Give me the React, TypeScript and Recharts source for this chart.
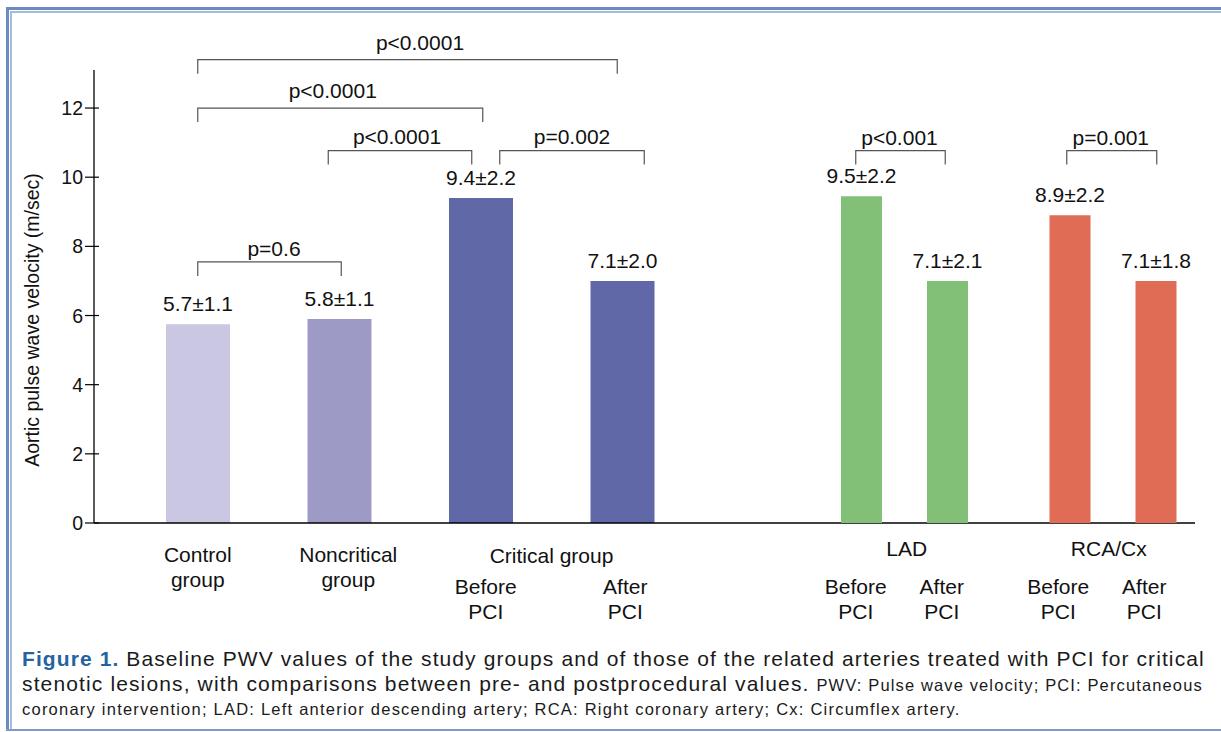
import React from 'react';
import { BarChart, Bar, XAxis, YAxis, Cell, LabelList, ReferenceLine } from 'recharts';

const FONT = '"Liberation Sans", Arial, Helvetica, sans-serif';

// ---------- data ----------
const leftCategories = ['Control group', 'Noncritical group', 'Before PCI', 'After PCI'];
const leftGroups = ['', '', 'Critical group', 'Critical group'];
const leftValues = [5.75, 5.9, 9.4, 7.0];
const leftValueLabels = ['5.7±1.1', '5.8±1.1', '9.4±2.2', '7.1±2.0'];

const rightCategories = ['LAD', 'RCA/Cx'];
const rightBeforeValues = [9.45, 8.9];
const rightAfterValues = [7.0, 7.0];
const rightBeforeLabels = ['9.5±2.2', '8.9±2.2'];
const rightAfterLabels = ['7.1±2.1', '7.1±1.8'];
const phaseNames = ['Before PCI', 'After PCI'];

const yTicks = [0, 2, 4, 6, 8, 10, 12];
const yMax = 13.1;
const yAxisTitle = 'Aortic pulse wave velocity (m/sec)';

const leftBrackets = [
  { from: 'Control group', to: 'After PCI', level: 13.4, text: 'p<0.0001' },
  { from: 'Control group', to: 'Before PCI', level: 12.0, text: 'p<0.0001' },
  { from: 'Noncritical group', to: 'Before PCI', level: 10.77, text: 'p<0.0001' },
  { from: 'Before PCI', to: 'After PCI', level: 10.77, text: 'p=0.002' },
  { from: 'Control group', to: 'Noncritical group', level: 7.55, text: 'p=0.6' },
];
const rightBrackets = [
  { at: 'LAD', level: 10.77, text: 'p<0.001' },
  { at: 'RCA/Cx', level: 10.77, text: 'p=0.001' },
];

// ---------- styles ----------
const leftColors = ['#c9c7e1', '#9d9bc6', '#6168a7', '#6168a7'];
const rightColors = ['#82c077', '#e06c55'];
const TEXT = '#111';
const BRACKET = '#555';
const TICK = 14;
const BAR_L = 64;
const BAR_R = 41;
const GAP_R = 45;
const HALF_PAIR = (BAR_R + GAP_R) / 2;
const FS = 21;

// nudges (px): l/r = end shifts, t = label shift, g = label gap above line
const leftBracketStyle = [
  { l: 0, r: -5, t: 12.5, g: 10 },
  { l: 0, r: 2, t: -7.5, g: 10 },
  { l: -11, r: -9, t: -3, g: 7 },
  { l: 19, r: 22, t: 0, g: 7 },
  { l: 0, r: 2, t: 4.5, g: 6 },
];
const rightBracketStyle = [
  { l: -5.5, r: -2, t: -1, g: 6 },
  { l: -3, r: 1, t: -1, g: 6 },
];
const leftLabelNudge = [0, 9, 5, 3];
const rightMainNudge = [2.5, -4];
const rightSubNudge = [-5.5, -11.5];

const leftData = leftCategories.map((c, i) => ({
  name: c,
  value: leftValues[i],
  label: leftValueLabels[i],
}));
const rightData = rightCategories.map((c, i) => ({
  name: c,
  before: rightBeforeValues[i],
  after: rightAfterValues[i],
  beforeLabel: rightBeforeLabels[i],
  afterLabel: rightAfterLabels[i],
}));

const makeBracket = (text: string, s: any, spread = 0) => (props: any) => {
  const { x1, y1, x2 } = props;
  const a = x1 - spread + s.l;
  const b = x2 + spread + s.r;
  const y = y1;
  return (
    <g>
      <path
        d={`M${a},${y + TICK} V${y} H${b} V${y + TICK}`}
        fill="none"
        stroke={BRACKET}
        strokeWidth={1.2}
      />
      <text
        x={(a + b) / 2 + s.t}
        y={y - s.g}
        textAnchor="middle"
        fontSize={FS}
        fill={TEXT}
        fontFamily={FONT}
      >
        {text}
      </text>
    </g>
  );
};

const groupLabelShape = (text: string) => (props: any) => {
  const { x1, y1, x2 } = props;
  return (
    <text x={(x1 + x2) / 2} y={y1 + 40} textAnchor="middle" fontSize={FS} fill={TEXT} fontFamily={FONT}>
      {text}
    </text>
  );
};

const YTick = (props: any) => {
  const { x, y, payload } = props;
  return (
    <g>
      <line x1={x - 9} x2={x + 5} y1={y} y2={y} stroke="#000" strokeWidth={1.2} />
      <text x={x - 11} y={y} dy="0.36em" textAnchor="end" fontSize={19.5} fill={TEXT} fontFamily={FONT}>
        {payload.value}
      </text>
    </g>
  );
};

const LeftTick = (props: any) => {
  const { x, y, payload } = props;
  const i = leftCategories.indexOf(payload.value);
  const grouped = leftGroups[i] !== '';
  const lines = String(payload.value).split(' ');
  const base = y + (grouped ? 71 : 39);
  const cx = x + (leftLabelNudge[i] || 0);
  return (
    <g>
      {lines.map((ln, k) => (
        <text key={k} x={cx} y={base + k * 25} textAnchor="middle" fontSize={FS} fill={TEXT} fontFamily={FONT}>
          {ln}
        </text>
      ))}
    </g>
  );
};

const RightTick = (props: any) => {
  const { x, y, payload } = props;
  const i = rightCategories.indexOf(payload.value);
  return (
    <g>
      <text x={x + rightMainNudge[i]} y={y + 33} textAnchor="middle" fontSize={FS} fill={TEXT} fontFamily={FONT}>
        {payload.value}
      </text>
      {phaseNames.map((p, j) => {
        const px = x + (j === 0 ? -HALF_PAIR : HALF_PAIR) + rightSubNudge[i];
        return p.split(' ').map((ln, k) => (
          <text
            key={`${j}-${k}`}
            x={px}
            y={y + 71 + k * 25}
            textAnchor="middle"
            fontSize={FS}
            fill={TEXT}
            fontFamily={FONT}
          >
            {ln}
          </text>
        ));
      })}
    </g>
  );
};

const CHART_W = 1221;
const CHART_H = 633;
const TOP = 70;
const X_H = 110;

const labelStyle = { fontSize: FS, fill: TEXT, fontFamily: FONT };

export default function App() {
  return (
    <div
      style={{
        position: 'absolute',
        left: 0,
        top: 0,
        width: 1221,
        height: 732,
        background: '#fff',
        fontFamily: FONT,
        overflow: 'hidden',
      }}
    >
      {/* frame */}
      <div style={{ position: 'absolute', left: 6, top: 7, right: 0, height: 3, background: '#6a8cc0' }} />
      <div style={{ position: 'absolute', left: 10, top: 11, right: 0, height: 1.5, background: '#a6bbdf' }} />
      <div style={{ position: 'absolute', left: 6, top: 7, width: 3, height: 724, background: '#6a8cc0' }} />
      <div style={{ position: 'absolute', left: 10, top: 11, width: 1.5, height: 718, background: '#a6bbdf' }} />
      <div style={{ position: 'absolute', left: 6, top: 729, right: 0, height: 2, background: '#7d9acb' }} />

      {/* left chart */}
      <div style={{ position: 'absolute', left: 0, top: 0 }}>
        <BarChart
          width={CHART_W}
          height={CHART_H}
          data={leftData}
          margin={{ top: TOP, right: 26, left: 34, bottom: 0 }}
        >
          <XAxis
            dataKey="name"
            type="category"
            height={X_H}
            padding={{ left: 33, right: 502 }}
            axisLine={{ stroke: '#000', strokeWidth: 1.3 }}
            tickLine={false}
            tickSize={0}
            tickMargin={0}
            interval={0}
            tick={<LeftTick />}
          />
          <YAxis
            type="number"
            domain={[0, yMax]}
            ticks={yTicks}
            width={60}
            axisLine={{ stroke: '#000', strokeWidth: 1.3 }}
            tickLine={false}
            tickSize={0}
            tickMargin={0}
            interval={0}
            tick={<YTick />}
            label={{
              content: () => (
                <text
                  transform="translate(32,320) rotate(-90)"
                  textAnchor="middle"
                  dominantBaseline="central"
                  fontSize={19.5}
                  fill={TEXT}
                  fontFamily={FONT}
                >
                  {yAxisTitle}
                </text>
              ),
            }}
          />
          <Bar dataKey="value" barSize={BAR_L} isAnimationActive={false}>
            {leftData.map((d, i) => (
              <Cell key={d.name} fill={leftColors[i]} />
            ))}
            <LabelList dataKey="label" position="top" offset={13} {...labelStyle} />
          </Bar>
          {leftBrackets.map((b, i) => (
            <ReferenceLine
              key={`lb${i}`}
              segment={[
                { x: b.from, y: b.level },
                { x: b.to, y: b.level },
              ]}
              ifOverflow="visible"
              shape={makeBracket(b.text, leftBracketStyle[i])}
            />
          ))}
          <ReferenceLine
            segment={[
              { x: leftCategories[2], y: 0 },
              { x: leftCategories[3], y: 0 },
            ]}
            ifOverflow="visible"
            shape={groupLabelShape(leftGroups[2])}
          />
        </BarChart>
      </div>

      {/* right chart (overlay, same y scale) */}
      <div style={{ position: 'absolute', left: 0, top: 0 }}>
        <BarChart
          width={CHART_W}
          height={CHART_H}
          data={rightData}
          margin={{ top: TOP, right: 4, left: 800, bottom: 0 }}
          barGap={GAP_R}
        >
          <XAxis
            dataKey="name"
            type="category"
            height={X_H}
            axisLine={false}
            tickLine={false}
            tickSize={0}
            tickMargin={0}
            interval={0}
            tick={<RightTick />}
          />
          <YAxis type="number" domain={[0, yMax]} ticks={yTicks} hide width={0} />
          <Bar dataKey="before" barSize={BAR_R} isAnimationActive={false}>
            {rightData.map((d, i) => (
              <Cell key={d.name} fill={rightColors[i]} />
            ))}
            <LabelList dataKey="beforeLabel" position="top" offset={13} {...labelStyle} />
          </Bar>
          <Bar dataKey="after" barSize={BAR_R} isAnimationActive={false}>
            {rightData.map((d, i) => (
              <Cell key={d.name} fill={rightColors[i]} />
            ))}
            <LabelList dataKey="afterLabel" position="top" offset={13} {...labelStyle} />
          </Bar>
          {rightBrackets.map((b, i) => (
            <ReferenceLine
              key={`rb${i}`}
              segment={[
                { x: b.at, y: b.level },
                { x: b.at, y: b.level },
              ]}
              ifOverflow="visible"
              shape={makeBracket(b.text, rightBracketStyle[i], HALF_PAIR)}
            />
          ))}
        </BarChart>
      </div>

      {/* caption */}
      <div
        style={{
          position: 'absolute',
          left: 22,
          top: 645.6,
          whiteSpace: 'nowrap',
          fontSize: 21,
          lineHeight: '25px',
          letterSpacing: 1.1,
          color: '#1a1a1a',
        }}
      >
        <span style={{ color: '#2463a0', fontWeight: 'bold' }}>Figure 1.</span> Baseline PWV values of the study
        groups and of those of the related arteries treated with PCI for critical
      </div>
      <div
        style={{
          position: 'absolute',
          left: 22,
          top: 670.6,
          whiteSpace: 'nowrap',
          fontSize: 21,
          lineHeight: '25px',
          letterSpacing: 1.13,
          color: '#1a1a1a',
        }}
      >
        stenotic lesions, with comparisons between pre- and postprocedural values.{' '}
        <span style={{ fontSize: 16.5 }}>PWV: Pulse wave velocity; PCI: Percutaneous</span>
      </div>
      <div
        style={{
          position: 'absolute',
          left: 22,
          top: 697,
          whiteSpace: 'nowrap',
          fontSize: 16.5,
          lineHeight: '25px',
          letterSpacing: 1.23,
          color: '#1a1a1a',
        }}
      >
        coronary intervention; LAD: Left anterior descending artery; RCA: Right coronary artery; Cx: Circumflex artery.
      </div>
    </div>
  );
}
